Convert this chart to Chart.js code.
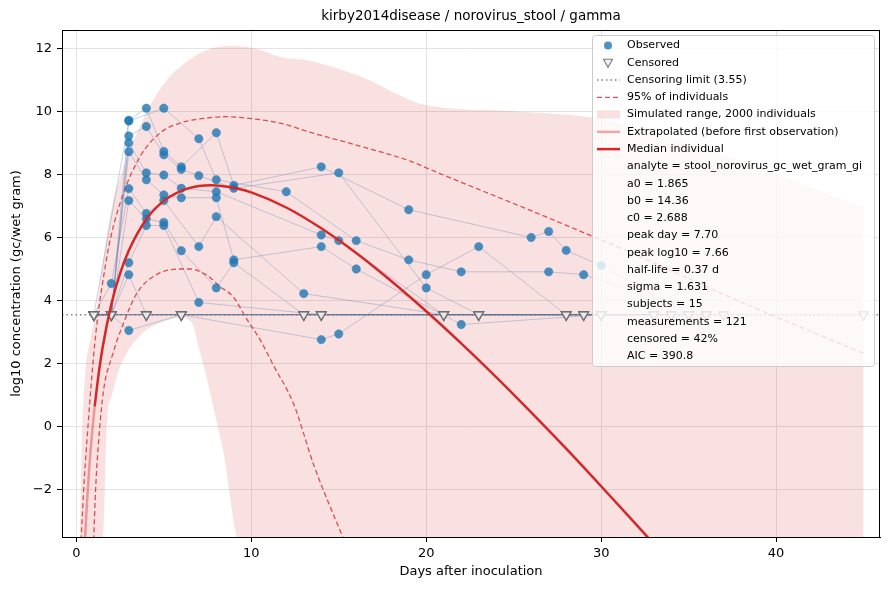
<!DOCTYPE html>
<html>
<head>
<meta charset="utf-8">
<script src="https://cdn.jsdelivr.net/npm/chart.js@4.4.1/dist/chart.umd.min.js"></script>
<style>
  html, body { margin: 0; padding: 0; background: #ffffff; }
  #wrap { width: 890px; height: 590px; }
</style>
</head>
<body>
<div id="wrap"><canvas id="chart" width="890" height="590"></canvas></div>
<script>

// =========================
// DATA
// =========================

const chartTitle = 'kirby2014disease / norovirus_stool / gamma';
const xLabel = 'Days after inoculation';
const yLabel = 'log10 concentration (gc/wet gram)';

const xMin = -0.82;
const xMax = 45.94;
const yMin = -3.5;
const yMax = 12.58;
const xTicks = [0, 10, 20, 30, 40];
const yTicks = [-2, 0, 2, 4, 6, 8, 10, 12];

const censorLimit = 3.55;

// simulated range, upper edge
const bandDays = [0.2, 0.32, 0.51, 0.8, 1.18, 1.56, 2.04, 2.7, 3.47, 4.42, 5.37, 6.51, 7.1, 8.6, 9.75, 10.5, 11.66, 13.37, 16.2, 20, 25, 30, 35, 40, 45];
const bandHigh = [-3.6, -0.41, 1.7, 2.76, 3.82, 5.41, 7.0, 8.26, 9.32, 10.38, 11.12, 11.65, 11.86, 12.07, 12.04, 11.95, 11.72, 11.6, 11.12, 10.19, 10.0, 9.75, 9.0, 8.0, 6.95];

// simulated range, lower edge
const bandLowDays = [0.2, 1.5, 1.75, 2.04, 2.32, 2.9, 3.5, 4.04, 4.6, 5.37, 5.94, 6.32, 6.5, 6.7, 7.0, 7.47, 8.0, 8.42, 9.3, 45];
const bandLow = [-3.6, -3.6, 0.1, 1.0, 1.6, 2.35, 2.8, 3.08, 3.25, 3.4, 3.45, 3.42, 3.35, 3.18, 2.5, 1.49, 0.2, -0.84, -3.6, -3.6];

// 95% of individuals
const upperDays = [0.27, 0.45, 0.61, 0.9, 1.18, 1.47, 1.94, 2.7, 3.66, 4.8, 5.94, 7.66, 8.6, 10, 11.7, 13.4, 16.2, 19.1, 20, 22, 25.6, 28.8, 32, 35, 38, 41, 45];
const upperVals = [-3.6, -1.7, -0.41, 1.7, 3.29, 4.45, 5.94, 7.41, 8.58, 9.32, 9.63, 9.8, 9.83, 9.77, 9.62, 9.33, 8.9, 8.42, 8.21, 7.75, 6.94, 6.2, 5.45, 4.7, 3.95, 3.25, 2.32];
const lowerDays = [0.99, 1.1, 1.28, 1.56, 2.04, 2.7, 3.47, 4.42, 5.94, 6.5, 7.47, 8.2, 8.99, 9.75, 10.5, 11.3, 12.4, 13.6, 15.3];
const lowerVals = [-3.6, -2.0, -0.41, 1.17, 2.23, 3.29, 4.24, 4.77, 5.0, 5.0, 4.8, 4.45, 4.1, 3.4, 2.76, 1.91, 0.75, -1.26, -3.6];

// median individual
const extrapDays = [0.5, 0.6, 0.75, 0.9, 1.05];
const extrapVals = [-3.53, -2.47, -1.21, -0.2, 0.64];
const medianDays = [1.05, 1.25, 1.5, 2, 2.5, 3, 4, 5, 6, 7, 7.7, 9, 10, 12, 14, 16, 18, 20, 22, 24, 26, 28, 30, 32, 33];
const medianVals = [0.64, 1.57, 2.5, 3.88, 4.86, 5.59, 6.58, 7.16, 7.48, 7.63, 7.66, 7.58, 7.43, 6.95, 6.29, 5.51, 4.62, 3.66, 2.64, 1.57, 0.45, -0.7, -1.89, -3.1, -3.72];

// individual subjects (null = below censoring limit)
const subjectDays = [
    [1, 2, 3, 4, 5, 6, 8, 9, 14, 19, 26, 27, 28, 30, 35],
    [1, 3, 5, 7, 8, 12, 16, 19, 22, 27, 29, 36],
    [1, 2, 3, 4, 5, 6, 7, 9, 15, 20, 23, 28, 33],
    [1, 2, 3, 4, 5, 6, 8, 14, 15, 21, 29, 34],
    [1, 2, 3, 4, 5, 6, 8, 9, 14, 16, 22, 30, 37],
    [1, 2, 3, 4, 5, 7, 8, 13, 21, 28, 45],
    [1, 2, 3, 4, 5, 6, 8, 9, 13, 23, 30],
    [1, 2, 3, 4, 5, 7, 14, 21, 29],
    [1, 2, 3, 4, 6, 13, 21],
    [1, 2, 3, 6, 14, 15, 20, 23, 28, 33],
    [1, 2, 4, 6, 14, 23, 29],
    [1, 2, 4, 6, 13, 21, 30],
    [1, 2, 4, 14, 23, 28, 34],
    [1, 2, 6, 13, 21, 29, 35],
    [1, 2, 4, 6, 14, 23, 30, 36]
];
const subjectVals = [
    [null, null, 9.72, 10.1, 8.73, 8.24, 9.32, 7.65, 8.24, 6.88, 6.0, 6.19, 5.59, 5.11, null],
    [null, 9.69, 10.1, 9.13, 7.83, 7.45, 5.9, 5.29, 4.91, 4.91, 4.82, null],
    [null, null, 9.22, 9.52, 8.62, 8.16, 7.96, 7.56, 8.05, 4.4, null, null, null],
    [null, null, 9.0, 8.05, 7.98, 7.56, 7.45, 6.08, 5.9, null, null, null],
    [null, null, 8.72, 7.83, 7.35, 7.26, 7.26, 5.29, 5.71, 5.0, 3.24, null, null],
    [null, 4.54, 7.55, 6.76, 7.17, 5.71, 6.66, 4.22, null, null, null],
    [null, null, 7.17, 6.59, 6.48, 5.58, 4.4, 5.2, null, null, null],
    [null, null, 5.2, 6.38, 6.38, 3.94, null, null, null],
    [null, null, 4.82, null, null, null, null],
    [null, null, 3.05, null, 2.76, 2.94, 4.82, 5.71, null, null],
    [null, null, null, null, null, null, null],
    [null, null, null, null, null, null, null],
    [null, null, null, null, null, null, null],
    [null, null, null, null, null, null, null],
    [null, null, null, null, null, null, null, null]
];

const legendLabels = [
    'Observed',
    'Censored',
    'Censoring limit (' + censorLimit + ')',
    '95% of individuals',
    'Simulated range, 2000 individuals',
    'Extrapolated (before first observation)',
    'Median individual'
];

const statLines = [
    'analyte = stool_norovirus_gc_wet_gram_gi',
    'a0 = 1.865',
    'b0 = 14.36',
    'c0 = 2.688',
    'peak day = 7.70',
    'peak log10 = 7.66',
    'half-life = 0.37 d',
    'sigma = 1.631',
    'subjects = 15',
    'measurements = 121',
    'censored = 42%',
    'AIC = 390.8'
];

// =========================
// HELPERS
// =========================

const FONT = '"DejaVu Sans", "Liberation Sans", sans-serif';

function zip(days, vals){
    return days.map((d, i) => ({ x: d, y: vals[i] }));
}

const observedPoints = [];
const censoredPoints = [];

const subjectSets = subjectDays.map((days, s) => {

    const pts = days.map((d, i) => {
        const v = subjectVals[s][i];
        if(v === null){
            censoredPoints.push({ x: d, y: censorLimit });
            return { x: d, y: censorLimit };
        }
        observedPoints.push({ x: d, y: v });
        return { x: d, y: v };
    });

    return {
        type: 'line',
        data: pts,
        borderColor: 'rgba(80,115,165,0.32)',
        borderWidth: 1,
        pointRadius: 0,
        fill: false,
        tension: 0,
        order: 6
    };
});

function curve(days, vals, color, width, dash, order){
    return {
        type: 'line',
        data: zip(days, vals),
        borderColor: color,
        borderWidth: width,
        borderDash: dash,
        pointRadius: 0,
        fill: false,
        cubicInterpolationMode: 'monotone',
        order: order
    };
}

// =========================
// DATASETS
// =========================

const datasets = [];

// 0: lower edge of band (fill target)
datasets.push({
    type: 'line',
    data: zip(bandLowDays, bandLow),
    borderWidth: 0,
    borderColor: 'rgba(0,0,0,0)',
    pointRadius: 0,
    fill: false,
    cubicInterpolationMode: 'monotone',
    order: 9
});

// 1: upper edge of band
datasets.push({
    type: 'line',
    data: zip(bandDays, bandHigh),
    borderWidth: 0,
    borderColor: 'rgba(0,0,0,0)',
    backgroundColor: 'rgba(214,39,40,0.14)',
    pointRadius: 0,
    fill: 0,
    cubicInterpolationMode: 'monotone',
    order: 8
});

datasets.push(curve(upperDays, upperVals, 'rgba(214,39,40,0.8)', 1.3, [5, 3], 7));
datasets.push(curve(lowerDays, lowerVals, 'rgba(214,39,40,0.8)', 1.3, [5, 3], 7));

subjectSets.forEach(s => datasets.push(s));

// censoring limit
datasets.push({
    type: 'line',
    data: [{ x: xMin, y: censorLimit }, { x: xMax, y: censorLimit }],
    borderColor: 'rgba(110,110,110,0.85)',
    borderWidth: 1.4,
    borderDash: [1.5, 3],
    pointRadius: 0,
    fill: false,
    order: 5
});

datasets.push({
    type: 'scatter',
    data: censoredPoints,
    pointStyle: 'triangle',
    rotation: 180,
    pointRadius: 5.5,
    backgroundColor: 'rgba(235,235,235,0.6)',
    borderColor: 'rgba(110,110,110,0.9)',
    borderWidth: 1.2,
    order: 4
});

datasets.push({
    type: 'scatter',
    data: observedPoints,
    pointStyle: 'circle',
    pointRadius: 4.2,
    backgroundColor: 'rgba(31,119,180,0.8)',
    borderColor: 'rgba(31,119,180,0.8)',
    borderWidth: 0.5,
    order: 3
});

datasets.push(curve(extrapDays, extrapVals, 'rgba(214,39,40,0.4)', 2.5, [], 2));
datasets.push(curve(medianDays, medianVals, '#d62728', 2.5, [], 1));

// =========================
// DECORATION PLUGIN
// =========================

const decor = {
    id: 'decor',
    afterDraw(chart){

        const ctx = chart.ctx;
        const a = chart.chartArea;

        ctx.save();

        // frame
        ctx.strokeStyle = '#000';
        ctx.lineWidth = 1;
        ctx.strokeRect(a.left + 0.5, a.top + 0.5, a.right - a.left - 1, a.bottom - a.top);

        // title and axis labels
        ctx.fillStyle = '#000';
        ctx.textAlign = 'center';
        ctx.textBaseline = 'middle';
        ctx.font = '13.5px ' + FONT;
        ctx.fillText(chartTitle, (a.left + a.right) / 2, 16);

        ctx.font = '13px ' + FONT;
        ctx.fillText(xLabel, (a.left + a.right) / 2, 572);

        ctx.save();
        ctx.translate(17, (a.top + a.bottom) / 2);
        ctx.rotate(-Math.PI / 2);
        ctx.fillText(yLabel, 0, 0);
        ctx.restore();

        // legend
        const bx = 592, by = 35, bw = 282, bh = 331;
        ctx.beginPath();
        ctx.roundRect(bx + 0.5, by + 0.5, bw, bh, 3);
        ctx.fillStyle = 'rgba(255,255,255,0.8)';
        ctx.fill();
        ctx.strokeStyle = '#cccccc';
        ctx.lineWidth = 1;
        ctx.stroke();

        const rowY = i => 45.5 + i * 17.27;
        const hx0 = 597, hx1 = 620, hxc = 608;

        // handles
        ctx.fillStyle = 'rgba(31,119,180,0.8)';
        ctx.beginPath();
        ctx.arc(hxc, rowY(0), 4, 0, Math.PI * 2);
        ctx.fill();

        ctx.beginPath();
        const ty = rowY(1);
        ctx.moveTo(hxc - 4.5, ty - 3.5);
        ctx.lineTo(hxc + 4.5, ty - 3.5);
        ctx.lineTo(hxc, ty + 4.5);
        ctx.closePath();
        ctx.fillStyle = 'rgba(235,235,235,0.6)';
        ctx.fill();
        ctx.strokeStyle = 'rgba(110,110,110,0.9)';
        ctx.lineWidth = 1.1;
        ctx.stroke();

        function hline(y, color, width, dash){
            ctx.beginPath();
            ctx.setLineDash(dash);
            ctx.strokeStyle = color;
            ctx.lineWidth = width;
            ctx.moveTo(hx0, y);
            ctx.lineTo(hx1, y);
            ctx.stroke();
            ctx.setLineDash([]);
        }

        hline(rowY(2), 'rgba(110,110,110,0.85)', 1.4, [1.5, 3]);
        hline(rowY(3), 'rgba(214,39,40,0.8)', 1.3, [5, 3]);

        ctx.fillStyle = 'rgba(214,39,40,0.14)';
        ctx.fillRect(hx0, rowY(4) - 4, hx1 - hx0, 8);

        hline(rowY(5), 'rgba(214,39,40,0.4)', 2.5, []);
        hline(rowY(6), '#d62728', 2.5, []);

        // texts
        ctx.fillStyle = '#000';
        ctx.textAlign = 'left';
        ctx.textBaseline = 'middle';
        ctx.font = '11px ' + FONT;

        legendLabels.concat(statLines).forEach((t, i) => {
            ctx.fillText(t, 627, rowY(i));
        });

        ctx.restore();
    }
};

// =========================
// CHART
// =========================

function fmt(v){
    return v < 0 ? '\u2212' + Math.abs(v) : String(v);
}

new Chart(document.getElementById('chart'), {

    type: 'line',

    data: { datasets: datasets },

    options: {

        responsive: false,
        animation: false,
        devicePixelRatio: 1,

        layout: {
            padding: { top: 30, right: 10, left: 0, bottom: 0 }
        },

        plugins: {
            legend: { display: false },
            tooltip: { enabled: false },
            title: { display: false }
        },

        scales: {

            x: {
                type: 'linear',
                min: xMin,
                max: xMax,
                afterFit: s => { s.height = 53; },
                afterBuildTicks: s => { s.ticks = xTicks.map(v => ({ value: v })); },
                grid: {
                    color: '#e3e3e3',
                    tickColor: '#000',
                    tickLength: 5,
                    lineWidth: 1
                },
                border: { color: '#000', width: 1 },
                ticks: {
                    color: '#000',
                    padding: 4,
                    maxRotation: 0,
                    font: { family: FONT, size: 13 },
                    callback: v => fmt(v)
                }
            },

            y: {
                type: 'linear',
                min: yMin,
                max: yMax,
                afterFit: s => { s.width = 62; },
                afterBuildTicks: s => { s.ticks = yTicks.map(v => ({ value: v })); },
                grid: {
                    color: '#e3e3e3',
                    tickColor: '#000',
                    tickLength: 5,
                    lineWidth: 1
                },
                border: { color: '#000', width: 1 },
                ticks: {
                    color: '#000',
                    padding: 5,
                    font: { family: FONT, size: 13 },
                    callback: v => fmt(v)
                }
            }
        }
    },

    plugins: [decor]

});

</script>
</body>
</html>
